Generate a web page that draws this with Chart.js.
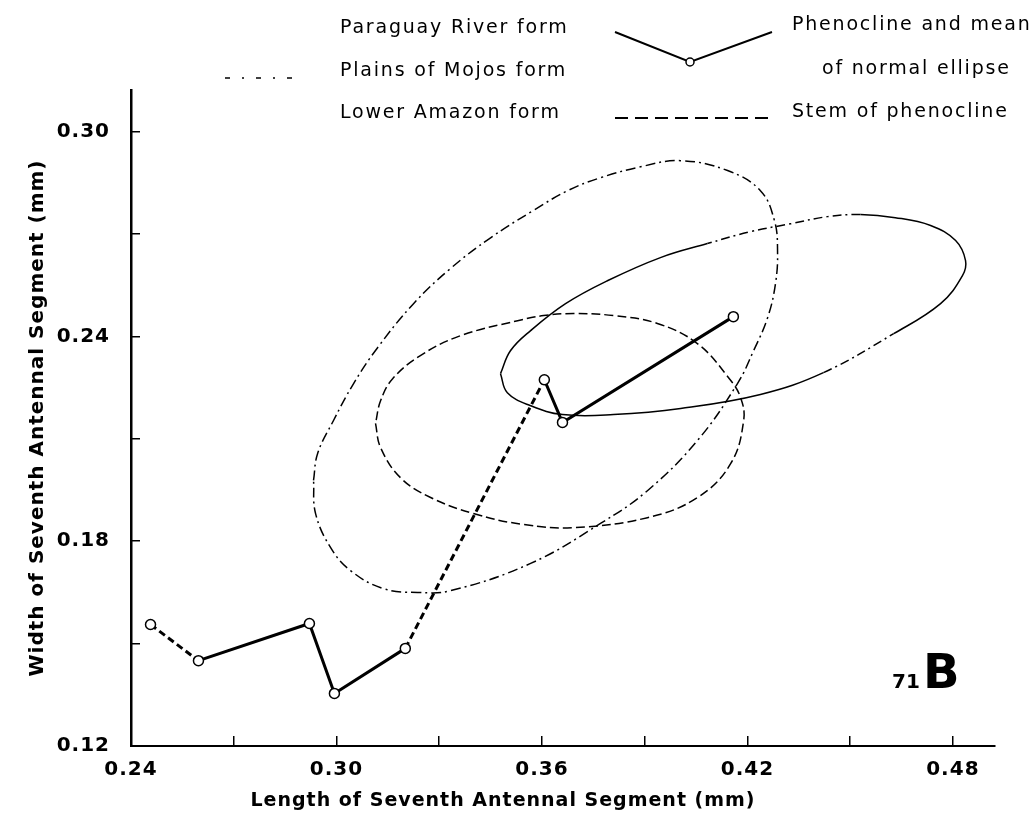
<!DOCTYPE html>
<html>
<head>
<meta charset="utf-8">
<script src="https://cdn.jsdelivr.net/npm/chart.js@4.4.1/dist/chart.umd.min.js"></script>
<style>
  html, body { margin: 0; padding: 0; background: #fff; }
  #chart { display: block; }
</style>
</head>
<body>
<canvas id="chart" width="1031" height="830"></canvas>
<script>
// phenocline: means of 7th antennal segment (mm), x = length, y = width
const phenoX = [0.2457, 0.2597, 0.2921, 0.2994, 0.3201, 0.3607, 0.3660, 0.4159];
const phenoY = [0.1556, 0.1450, 0.1559, 0.1354, 0.1486, 0.2273, 0.2148, 0.2458];
const stemSegments = [0, 4]; // segments drawn as the dashed stem

// normal ellipses, points read round the outline
const paraguayX = [0.3479, 0.3499, 0.3567, 0.3660, 0.3809, 0.4005, 0.4238, 0.4422, 0.4627, 0.4764, 0.4828, 0.4837, 0.4808,
  0.4735, 0.4632, 0.4530, 0.4434, 0.4326, 0.4209, 0.4083, 0.3946, 0.3791, 0.3669, 0.3567, 0.3508];
const paraguayY = [0.2291, 0.2235, 0.2197, 0.2171, 0.2171, 0.2189, 0.2230, 0.2294, 0.2408, 0.2496, 0.2578, 0.2622, 0.2681,
  0.2725, 0.2748, 0.2757, 0.2751, 0.2730, 0.2707, 0.2672, 0.2631, 0.2563, 0.2496, 0.2417, 0.2358];

const amazonX = [0.3114, 0.3129, 0.3187, 0.3275, 0.3400, 0.3546, 0.3692, 0.3908, 0.4054, 0.4151, 0.4189, 0.4180,
  0.4145, 0.4054, 0.3937, 0.3809, 0.3692, 0.3605, 0.3529, 0.3362, 0.3245, 0.3164, 0.3129];
const amazonY = [0.2145, 0.2074, 0.1986, 0.1928, 0.1881, 0.1849, 0.1840, 0.1869, 0.1928, 0.2027, 0.2153, 0.2221,
  0.2279, 0.2379, 0.2438, 0.2461, 0.2467, 0.2461, 0.2446, 0.2402, 0.2344, 0.2276, 0.2212];

// starts on the left side so the closing joint falls on a flat stretch
const mojosX = [0.2933, 0.2945, 0.2991, 0.3050, 0.3120, 0.3225, 0.3333, 0.3450, 0.3575, 0.3675, 0.3771, 0.3888,
  0.4005, 0.4142, 0.4238, 0.4279, 0.4288, 0.4282, 0.4259, 0.4218, 0.4171, 0.4054, 0.3908, 0.3771, 0.3567,
  0.3333, 0.3237, 0.3137, 0.3041, 0.2983, 0.2939];
const mojosY = [0.1978, 0.2057, 0.2153, 0.2262, 0.2367, 0.2496, 0.2599, 0.2689, 0.2769, 0.2827, 0.2865, 0.2897,
  0.2915, 0.2886, 0.2827, 0.2739, 0.2651, 0.2555, 0.2455, 0.2358, 0.2262, 0.2095, 0.1948, 0.1852, 0.1735,
  0.1655, 0.1650, 0.1661, 0.1714, 0.1781, 0.1881];

const xTickLabels = ['0.24', '0.30', '0.36', '0.42', '0.48'];
const yTickLabels = ['0.12', '0.18', '0.24', '0.30'];

const xTitle = 'Length of Seventh Antennal Segment (mm)';
const yTitle = 'Width of Seventh Antennal Segment (mm)';
const legendForms = ['Paraguay River form', 'Plains of Mojos form', 'Lower Amazon form'];
const legendNotes = ['Phenocline and mean', 'of normal ellipse', 'Stem of phenocline'];

const FONT = '"DejaVu Sans", sans-serif';

const toPoints = (xs, ys) => xs.map((x, i) => ({ x: x, y: ys[i] }));
const closed = (xs, ys) => { const p = toPoints(xs, ys); p.push(p[0]); return p; };

const paraguayDashed = [7, 15, 16, 17, 18];

const annotations = {
  id: 'annotations',
  beforeDraw(chart) {
    chart.ctx.letterSpacing = '1px';
  },
  afterDraw(chart) {
    const ctx = chart.ctx;
    ctx.save();
    ctx.fillStyle = '#000';
    ctx.strokeStyle = '#000';
    ctx.textBaseline = 'middle';

    // x axis title, sits a little left of the plot centre
    ctx.letterSpacing = '1px';
    ctx.textAlign = 'center';
    ctx.font = 'bold 19px ' + FONT;
    ctx.fillText(xTitle, 503, 801);

    ctx.textAlign = 'left';
    ctx.letterSpacing = '1.8px';
    ctx.font = '19px ' + FONT;
    const rows = [28, 71, 113];
    legendForms.forEach((t, i) => ctx.fillText(t, 340, rows[i]));
    ctx.fillText(legendNotes[0], 792, 25);
    ctx.fillText(legendNotes[1], 822, 69);
    ctx.fillText(legendNotes[2], 792, 112);

    // faint Mojos key
    ctx.lineWidth = 1.5;
    ctx.setLineDash([5, 12, 2, 12]);
    ctx.beginPath(); ctx.moveTo(225, 78); ctx.lineTo(300, 78); ctx.stroke();

    // phenocline key
    ctx.setLineDash([]);
    ctx.lineWidth = 2;
    ctx.beginPath(); ctx.moveTo(615, 32); ctx.lineTo(690, 62); ctx.lineTo(772, 32); ctx.stroke();
    ctx.beginPath(); ctx.arc(690, 62, 4, 0, Math.PI * 2);
    ctx.fillStyle = '#fff'; ctx.fill(); ctx.lineWidth = 1.5; ctx.stroke();
    ctx.fillStyle = '#000';

    // stem key
    ctx.lineWidth = 2;
    ctx.setLineDash([13, 7]);
    ctx.beginPath(); ctx.moveTo(615, 118); ctx.lineTo(772, 118); ctx.stroke();
    ctx.setLineDash([]);

    // panel label
    ctx.textBaseline = 'alphabetic';
    ctx.letterSpacing = '0px';
    ctx.font = 'bold 20px ' + FONT;
    ctx.fillText('71', 892, 688);
    ctx.font = 'bold 48px ' + FONT;
    ctx.fillText('B', 923, 688);
    ctx.restore();
  }
};

const ellipse = (label, pts, dash, extra) => Object.assign({
  label: label,
  data: pts,
  showLine: true,
  borderColor: '#000',
  borderWidth: 1.5,
  borderDash: dash,
  pointRadius: 0,
  tension: 0.4,
  fill: false
}, extra || {});

new Chart(document.getElementById('chart'), {
  type: 'scatter',
  data: {
    datasets: [
      {
        label: 'Phenocline',
        data: toPoints(phenoX, phenoY),
        showLine: true,
        borderColor: '#000',
        borderWidth: 3,
        pointRadius: 5,
        pointBackgroundColor: '#fff',
        pointBorderColor: '#000',
        pointBorderWidth: 1.5,
        tension: 0,
        segment: {
          borderDash: c => stemSegments.includes(c.p0DataIndex) ? [7, 4] : undefined
        }
      },
      ellipse('Paraguay River form', closed(paraguayX, paraguayY), [], {
        segment: {
          borderDash: c => paraguayDashed.includes(c.p0DataIndex) ? [9, 4, 2, 4] : undefined
        }
      }),
      ellipse('Plains of Mojos form', closed(mojosX, mojosY), [10, 4, 2, 4]),
      ellipse('Lower Amazon form', closed(amazonX, amazonY), [9, 4])
    ]
  },
  options: {
    responsive: false,
    animation: false,
    devicePixelRatio: 1,
    layout: { padding: { left: 0, right: 36, top: 90, bottom: 0 } },
    plugins: {
      legend: { display: false },
      tooltip: { enabled: false }
    },
    scales: {
      x: {
        type: 'linear',
        min: 0.24,
        max: 0.4923,
        afterFit: s => { s.height = 84; },
        border: { display: true, color: '#000', width: 2 },
        grid: { drawOnChartArea: false, drawTicks: true, tickLength: -10, color: '#000', lineWidth: 1.5 },
        ticks: {
          stepSize: 0.03,
          includeBounds: false,
          autoSkip: false,
          maxRotation: 0,
          padding: 22,
          color: '#000',
          font: { family: FONT, size: 20, weight: 'bold' },
          callback: v => { const s = Number(v).toFixed(2); return xTickLabels.includes(s) ? s : ''; }
        }
      },
      y: {
        type: 'linear',
        min: 0.12,
        max: 0.3122,
        afterFit: s => { s.width = 131; },
        border: { display: true, color: '#000', width: 2.5 },
        grid: { drawOnChartArea: false, drawTicks: true, tickLength: -9, color: '#000', lineWidth: 1.5 },
        ticks: {
          stepSize: 0.03,
          includeBounds: false,
          autoSkip: false,
          padding: 30,
          color: '#000',
          font: { family: FONT, size: 20, weight: 'bold' },
          callback: v => { const s = Number(v).toFixed(2); return yTickLabels.includes(s) ? s : ''; }
        },
        title: {
          display: true,
          text: yTitle,
          color: '#000',
          font: { family: FONT, size: 20, weight: 'bold' },
          padding: { top: 26, bottom: 0 }
        }
      }
    }
  },
  plugins: [annotations]
});
</script>
</body>
</html>
